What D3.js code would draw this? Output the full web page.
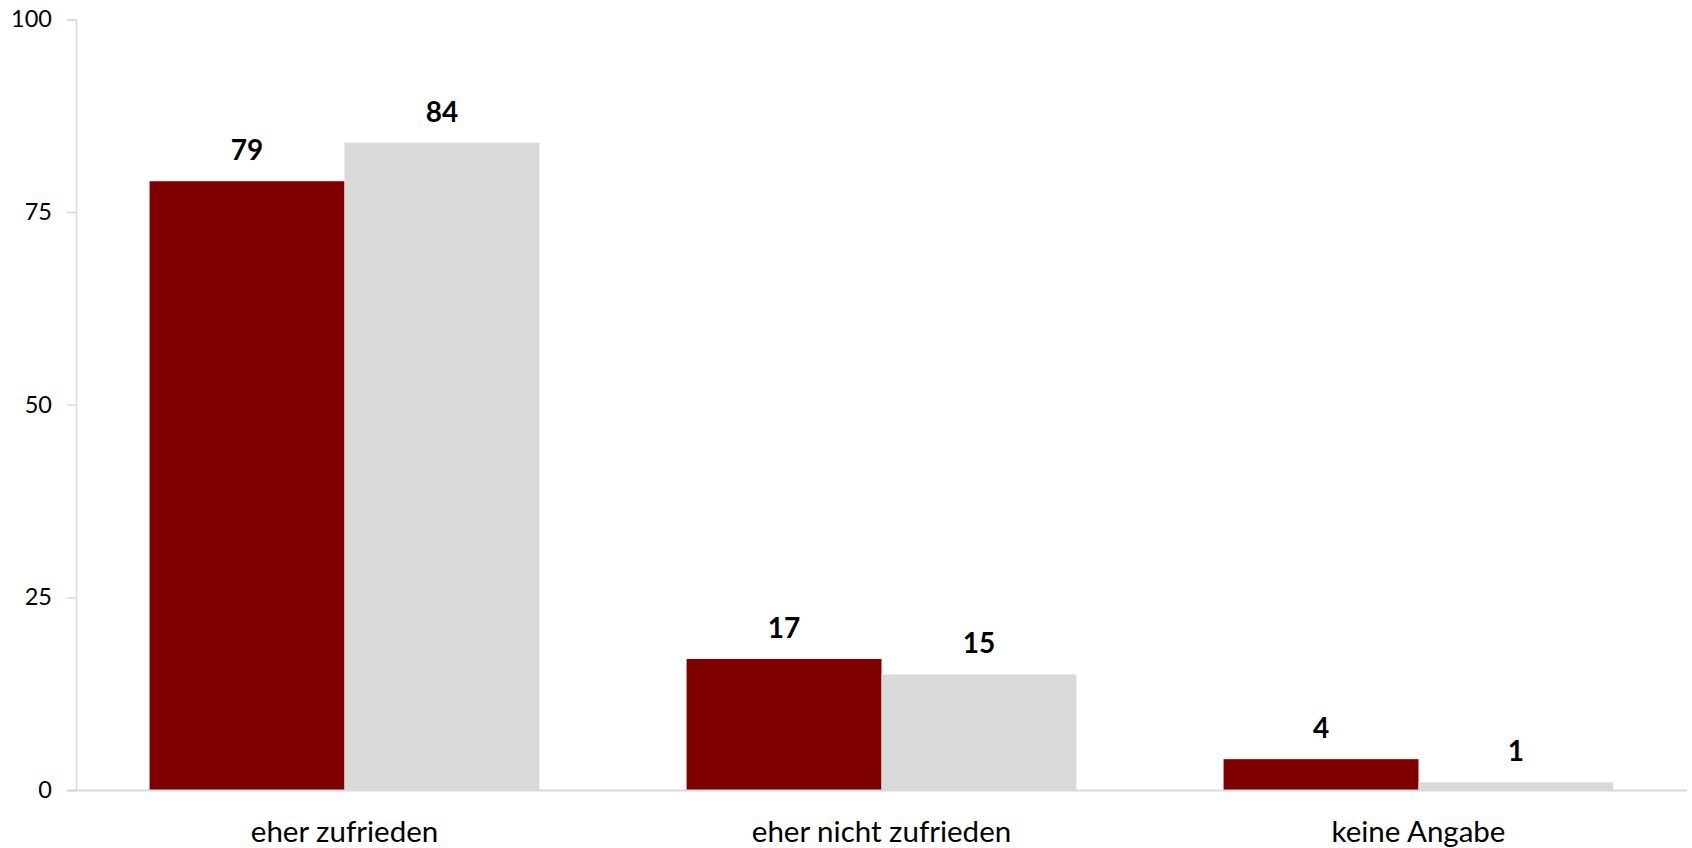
<!DOCTYPE html>
<html>
<head>
<meta charset="utf-8">
<script src="https://cdn.jsdelivr.net/npm/d3@7"></script>
<style>
  html, body { margin: 0; padding: 0; background: #ffffff; }
  svg { display: block; }
</style>
</head>
<body>
<svg id="chart" width="1692" height="848"></svg>
<script>
const categories = ["eher zufrieden", "eher nicht zufrieden", "keine Angabe"];
const seriesNames = ["Serie A", "Serie B"];
const seriesA = [79, 17, 4];
const seriesB = [84, 15, 1];
const yTicks = [0, 25, 50, 75, 100];
const colors = ["#7f0000", "#d9d9d9"];

const svg = d3.select("#chart");
const plotLeft = 76, plotRight = 1687, plotTop = 19.4, plotBottom = 790;
const font = "Lato, 'Open Sans', sans-serif";

const x = d3.scaleBand().domain(categories).range([plotLeft, plotRight])
  .paddingInner(0.274).paddingOuter(0.137);
const x1 = d3.scaleBand().domain(seriesNames).range([0, x.bandwidth()]).padding(0);
const y = d3.scaleLinear().domain([0, 100]).range([plotBottom, plotTop]);

const data = categories.map((c, i) => ({
  cat: c,
  values: [
    { s: seriesNames[0], v: seriesA[i], color: colors[0] },
    { s: seriesNames[1], v: seriesB[i], color: colors[1] }
  ]
}));

// y axis
const yAxis = d3.axisLeft(y).tickValues(yTicks).tickSize(9).tickPadding(15)
  .tickFormat(d3.format("d"));
const gy = svg.append("g").attr("transform", `translate(${plotLeft},0)`).call(yAxis);
gy.select(".domain").attr("stroke", "#d9d9d9").attr("stroke-width", 1.5);
gy.selectAll(".tick line").attr("stroke", "#d9d9d9").attr("stroke-width", 1.5);
gy.selectAll(".tick text").attr("fill", "#000").style("font-family", font)
  .style("font-size", "23.5px");

// bars
const groups = svg.append("g").selectAll("g").data(data).join("g")
  .attr("transform", d => `translate(${x(d.cat)},0)`);
groups.selectAll("rect").data(d => d.values).join("rect")
  .attr("x", d => x1(d.s))
  .attr("width", x1.bandwidth())
  .attr("y", d => y(d.v))
  .attr("height", d => y(0) - y(d.v))
  .attr("fill", d => d.color);

// value labels
groups.selectAll("text").data(d => d.values).join("text")
  .attr("x", d => x1(d.s) + x1.bandwidth() / 2)
  .attr("y", d => y(d.v) - 21)
  .attr("text-anchor", "middle")
  .style("font-family", font)
  .style("font-weight", "bold")
  .style("font-size", "28px")
  .attr("fill", "#000")
  .text(d => d.v);

// x axis
const xAxis = d3.axisBottom(x).tickSize(0).tickPadding(0);
const gx = svg.append("g").attr("transform", `translate(0,${plotBottom})`).call(xAxis);
gx.select(".domain").attr("stroke", "#d9d9d9").attr("stroke-width", 2)
  .attr("d", `M${plotLeft - 9},0.5H${plotRight}`);
gx.selectAll(".tick text").attr("fill", "#000").attr("dy", null).attr("y", 52)
  .style("font-family", font).style("font-size", "29.5px");
</script>
</body>
</html>
